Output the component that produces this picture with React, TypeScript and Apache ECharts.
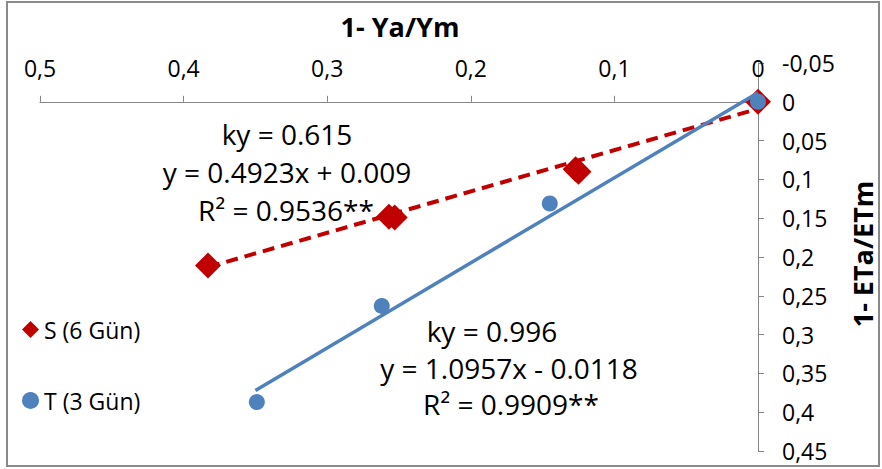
import React, { useEffect, useRef } from "react";
import * as echarts from "echarts";

// ---- data ----
const seriesNames = ["S (6 Gün)", "T (3 Gün)"];
// [1- Ya/Ym, 1- ETa/ETm]
const sPoints: number[][] = [
  [0.383, 0.211],
  [0.257, 0.148],
  [0.253, 0.149],
  [0.127, 0.087],
  [0.125, 0.09],
  [0, 0],
];
const tPoints: number[][] = [
  [0.349, 0.387],
  [0.262, 0.263],
  [0.145, 0.131],
  [0, 0],
];
// trend line end points
const sTrend: number[][] = [
  [0.383, 0.213],
  [0, 0.009],
];
const tTrend: number[][] = [
  [0.35, 0.372],
  [0, -0.0118],
];
const sLabels = ["ky = 0.615", "y = 0.4923x + 0.009", "R² = 0.9536**"];
const tLabels = ["ky = 0.996", "y = 1.0957x - 0.0118", "R² = 0.9909**"];
const xTitle = "1- Ya/Ym";
const yTitle = "1- ETa/ETm";
const xRange = [0, 0.5, 0.1];
const yRange = [-0.05, 0.45, 0.05];

const FONT = "'Open Sans', sans-serif";
const RED = "#C00000";
const BLUE = "#4F81BD";

const fmt = (v: number) => String(Math.round(v * 100) / 100).replace(".", ",");

export default function App() {
  const ref = useRef<HTMLDivElement>(null);
  useEffect(() => {
    if (!ref.current) return;
    const chart = echarts.init(ref.current, undefined, { renderer: "svg" });
    const textStyle = (t: string, x: number, y: number) => ({
      type: "text",
      x,
      y,
      style: {
        text: t,
        font: `28px ${FONT}`,
        fill: "#000",
        textAlign: "center",
        textVerticalAlign: "middle",
      },
    });
    chart.setOption({
      animation: false,
      backgroundColor: "#fff",
      grid: { left: 40, right: 124, top: 63, bottom: 18, containLabel: false },
      xAxis: {
        type: "value",
        min: xRange[0],
        max: xRange[1],
        interval: xRange[2],
        inverse: true,
        position: "top",
        axisLine: { show: true, onZero: true, lineStyle: { color: "#868686", width: 1 } },
        axisTick: { show: true, inside: false, length: 6, lineStyle: { color: "#868686" } },
        axisLabel: {
          formatter: fmt,
          margin: -16,
          fontFamily: FONT,
          fontSize: 23,
          color: "#000",
        },
        splitLine: { show: false },
      },
      yAxis: {
        type: "value",
        min: yRange[0],
        max: yRange[1],
        interval: yRange[2],
        inverse: true,
        position: "right",
        axisLine: { show: true, onZero: true, lineStyle: { color: "#868686", width: 1 } },
        axisTick: { show: true, inside: false, length: 6, lineStyle: { color: "#868686" } },
        axisLabel: {
          formatter: fmt,
          margin: 24,
          fontFamily: FONT,
          fontSize: 23,
          color: "#000",
        },
        splitLine: { show: false },
      },
      legend: {
        orient: "vertical",
        left: 22,
        top: 318,
        padding: 0,
        itemWidth: 17,
        itemHeight: 17,
        itemGap: 48,
        textStyle: { fontFamily: FONT, fontSize: 23, color: "#000" },
        data: [
          { name: seriesNames[0], icon: "diamond" },
          { name: seriesNames[1], icon: "circle" },
        ],
      },
      series: [
        {
          name: "S trend",
          type: "line",
          data: sTrend,
          symbol: "none",
          silent: true,
          lineStyle: { color: RED, width: 4, type: [12, 7] },
          z: 2,
        },
        {
          name: seriesNames[0],
          type: "scatter",
          data: sPoints,
          symbol: "diamond",
          symbolSize: 26,
          itemStyle: { color: RED, opacity: 1 },
          z: 3,
        },
        {
          name: "T trend",
          type: "line",
          data: tTrend,
          symbol: "none",
          silent: true,
          lineStyle: { color: BLUE, width: 3.5 },
          z: 4,
        },
        {
          name: seriesNames[1],
          type: "scatter",
          data: tPoints,
          symbol: "circle",
          symbolSize: 16,
          itemStyle: { color: BLUE, opacity: 1 },
          z: 5,
        },
      ],
      graphic: [
        {
          type: "rect",
          shape: { x: 7, y: 2, width: 872, height: 464 },
          style: { fill: "none", stroke: "#8a8a8a", lineWidth: 2 },
          silent: true,
        },
        {
          type: "text",
          x: 400,
          y: 26,
          style: {
            text: xTitle,
            font: `bold 27px ${FONT}`,
            fill: "#000",
            textAlign: "center",
            textVerticalAlign: "middle",
          },
        },
        {
          type: "text",
          x: 862,
          y: 254,
          rotation: Math.PI / 2,
          style: {
            text: yTitle,
            font: `bold 27px ${FONT}`,
            fill: "#000",
            textAlign: "center",
            textVerticalAlign: "middle",
          },
        },
        textStyle(sLabels[0], 287, 134),
        textStyle(sLabels[1], 287, 172),
        textStyle(sLabels[2], 286, 210),
        textStyle(tLabels[0], 492, 331),
        textStyle(tLabels[1], 509, 368),
        textStyle(tLabels[2], 511, 404),
      ],
    });
    return () => chart.dispose();
  }, []);
  return (
    <div
      ref={ref}
      style={{ position: "fixed", left: 0, top: 0, width: 882, height: 469 }}
    />
  );
}
